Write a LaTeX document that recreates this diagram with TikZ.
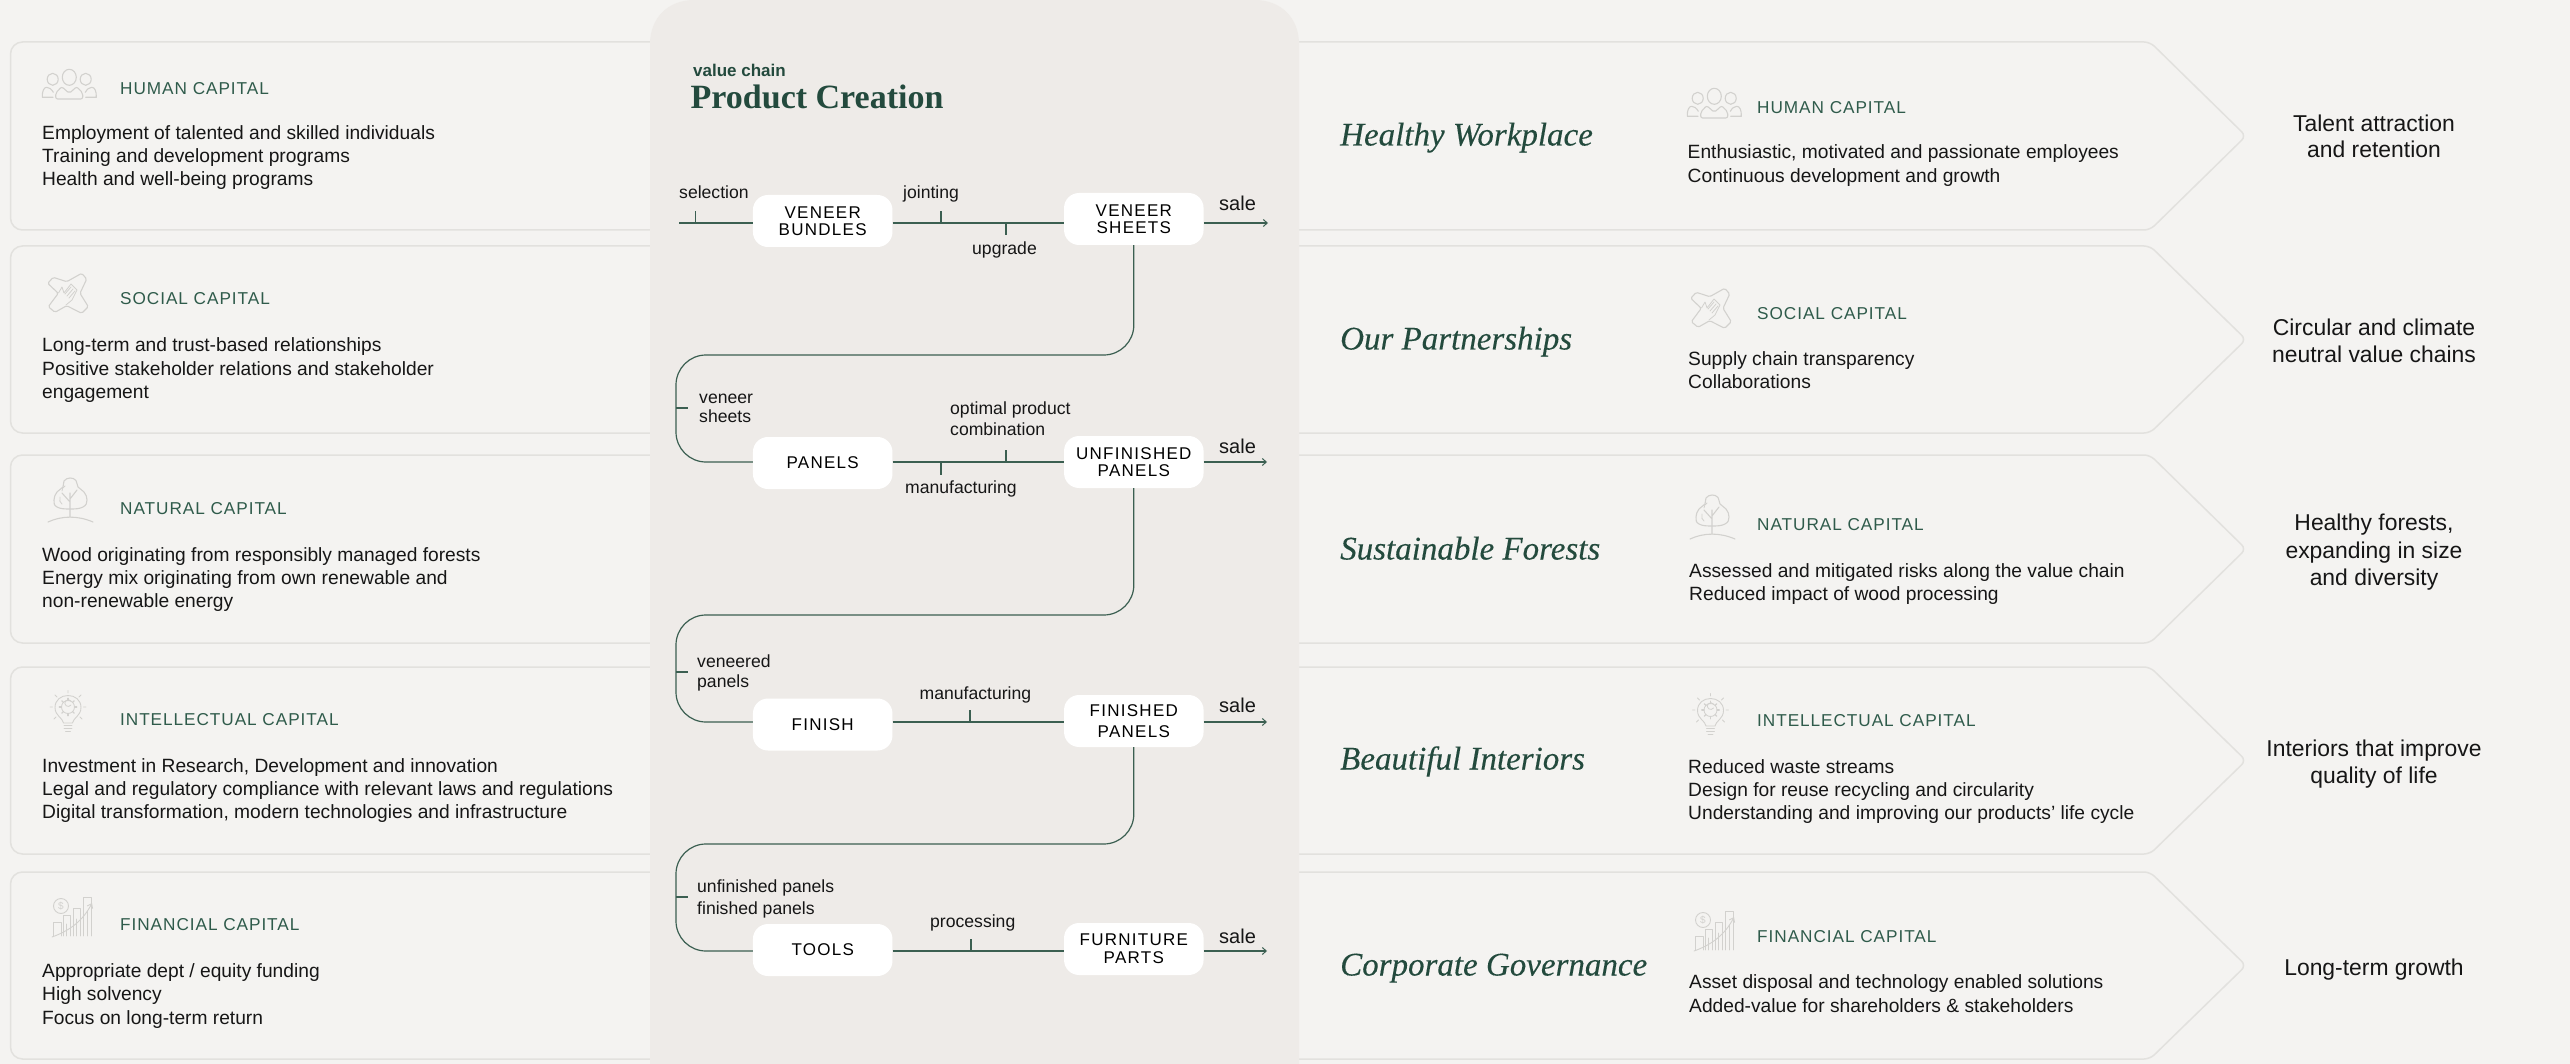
\documentclass[tikz,border=0pt]{standalone}
\usepackage{fontspec}
\usetikzlibrary{arrows.meta}
\setmainfont{Liberation Sans}
\newfontfamily\capsfont[LetterSpace=5.5]{Liberation Sans}
\newfontfamily\boxfont[LetterSpace=7.5]{Liberation Sans}
\newfontfamily\titlefont{Liberation Serif}
\newfontfamily\headfont[ItalicFeatures={FakeBold=0.2}]{Liberation Serif}
\definecolor{bgc}{HTML}{F4F3F1}
\definecolor{panelc}{HTML}{EEEBE8}
\definecolor{edgec}{HTML}{E2E1DE}
\definecolor{iconc}{HTML}{D2D1CE}
\definecolor{greenc}{HTML}{234A3D}
\definecolor{labelc}{HTML}{2F5B4B}
\definecolor{linec}{HTML}{3B5F51}
\definecolor{textc}{HTML}{161616}
\tikzset{
  txt/.style={anchor=base west,inner sep=0pt,text=textc},
  body/.style={txt,yshift=-0.7pt,font=\fontsize{19.2}{23}\selectfont},
  smalltxt/.style={txt,yshift=-0.5pt,font=\fontsize{17.6}{21}\selectfont},
  salet/.style={txt,font=\fontsize{20}{24}\selectfont},
  caplabel/.style={txt,yshift=-0.5pt,text=labelc,font=\capsfont\fontsize{17.2}{20}\selectfont},
  res/.style={anchor=base,yshift=-1pt,inner sep=0pt,text=textc,font=\fontsize{22.9}{27}\selectfont},
  ital/.style={txt,yshift=-0.5pt,text=greenc,font=\headfont\itshape\fontsize{33}{38}\selectfont},
  card/.style={draw=edgec,line width=1.5pt,fill=bgc},
  stagebox/.style={fill=white,rounded corners=15pt,minimum width=139.5pt,minimum height=52pt,inner sep=0pt,align=center,text=black,font=\boxfont\fontsize{17}{17}\selectfont},
  flow/.style={draw=linec,line width=1.2pt},
  flowtip/.style={flow,-{Straight Barb[length=4pt,width=7pt,line width=1pt]}},
  ic/.style={draw=iconc,line width=1.1pt,line join=round,line cap=round},
  humanicon/.pic={
    \draw[ic] (27.3,8.3) ellipse (7 and 8);
    \draw[ic] (10.7,10.3) ellipse (5.5 and 6);
    \draw[ic] (43.7,10.3) ellipse (5.5 and 6);
    \draw[ic,rounded corners=2pt] (13.7,30) -- (13.7,24) -- (19.7,17.7) -- (27.3,24.3) -- (34.7,17.7) -- (40.7,24) -- (40.7,30) -- cycle;
    \draw[ic] (11,28.3) -- (0.3,28.3) .. controls (0,22) and (2,18.3) .. (4.7,18.3) .. controls (7,18.3) and (9.5,20) .. (11.3,23.3);
    \draw[ic] (43.6,28.3) -- (54.3,28.3) .. controls (54.6,22) and (52.6,18.3) .. (49.9,18.3) .. controls (47.6,18.3) and (45.1,20) .. (43.3,23.3);
  },
  socialicon/.pic={
    \draw[ic,rounded corners=1.5pt] (34.7,0.3) -- (39.7,6) -- (33,20.3) -- (41.3,33.7) -- (34.7,40.3) -- (19.7,32.7) -- (8,39.3) -- (1.3,33.7) -- (11.3,20.3) -- (0.7,10.3) -- (6.3,4.3) -- (19.7,8.7) -- cycle;
    \draw[ic,line width=.8pt] (11.5,20) -- (15,14) -- (17,20) -- (24,11) -- (30,17) -- (25,27) -- (19,32);
    \draw[ic,line width=.8pt] (18,21) -- (24,14) (20,23) -- (26,16) (22,25) -- (28,18);
  },
  treeicon/.pic={
    \draw[ic] plot[smooth cycle,tension=.75] coordinates {(22,0) (28,2.5) (30,9) (36,14) (39,22) (35,29) (22,31) (9,29) (6,22) (9,14) (15,9) (16,3)};
    \draw[ic] (22,39) -- (22,15) (22,24) -- (14,15) (22,21) -- (29,12);
    \draw[ic] (0,44) .. controls (14,37.5) and (30,37.5) .. (45,44);
    \draw[ic,line width=.8pt] (12,19) .. controls (11,22) and (12,25) .. (14,26);
    \draw[ic,line width=.8pt] (17,8) .. controls (15,9) and (14,11) .. (14,13);
  },
  bulbicon/.pic={
    \draw[ic,line width=.9pt] (13.5,31) .. controls (13,26) and (5,24) .. (5,15.5) .. controls (5,8) and (11,3.5) .. (18,3.5) .. controls (25,3.5) and (31,8) .. (31,15.5) .. controls (31,24) and (23,26) .. (22.5,31) -- cycle;
    \draw[ic,line width=.8pt] (18,15) circle (6.5);
    \draw[ic,line width=.8pt] (21,13) arc (35:325:3.4);
    \foreach \a in {0,45,...,315} {\draw[ic,line width=1.3pt] (18,15) ++(\a:6.5) -- ++(\a:2.2);}
    \draw[ic,line width=.8pt] (14,33.5) -- (22,33.5) (14,36) -- (22,36) (15.5,39) -- (20.5,39);
    \draw[ic,line width=.8pt] (18,-1.5) -- (18,1) (5,3) -- (7,5) (31,3) -- (29,5) (0,15) -- (2.5,15) (33.5,15) -- (36,15) (4,27) -- (6,25) (32,27) -- (30,25);
  },
  financeicon/.pic={
    \draw[ic,line width=.9pt] (8,9) circle (7.5);
    \node[inner sep=0pt,text=iconc,font=\fontsize{10}{10}\selectfont] (coin) at (8,9) {\$};
    \draw[ic,line width=.9pt] (0,39) -- (0,25) -- (8,25) -- (8,39) (10,39) -- (10,18) -- (17,18) -- (17,39) (13.5,39) -- (13.5,27) (20,39) -- (20,11) -- (27,11) -- (27,39) (23.5,39) -- (23.5,22) (30,39) -- (30,0) -- (38,0) -- (38,39) (34,39) -- (34,14);
    \draw[ic,line width=.9pt,-{Straight Barb[length=4pt,width=6pt]}] (-1,40) .. controls (16,34) and (30,24) .. (39,6);
  }
}
\begin{document}
\begin{tikzpicture}[x=1pt,y=-1pt]
\path[use as bounding box,fill=bgc] (0,0) rectangle (2570,1064);

% left cards
\draw[card,rounded corners=12pt] (700,42) -- (10.5,42) -- (10.5,230) -- (700,230);
\draw[card,rounded corners=12pt] (700,246) -- (10.5,246) -- (10.5,433) -- (700,433);
\draw[card,rounded corners=12pt] (700,455) -- (10.5,455) -- (10.5,643) -- (700,643);
\draw[card,rounded corners=12pt] (700,667) -- (10.5,667) -- (10.5,854) -- (700,854);
\draw[card,rounded corners=12pt] (700,872) -- (10.5,872) -- (10.5,1059) -- (700,1059);

% right arrow cards
\draw[card,rounded corners=6pt] (1250,42) -- (2150,42) -- (2246,136) -- (2150,230) -- (1250,230);
\draw[card,rounded corners=6pt] (1250,246) -- (2150,246) -- (2246,339.5) -- (2150,433) -- (1250,433);
\draw[card,rounded corners=6pt] (1250,455) -- (2150,455) -- (2246,549) -- (2150,643) -- (1250,643);
\draw[card,rounded corners=6pt] (1250,667) -- (2150,667) -- (2246,760.5) -- (2150,854) -- (1250,854);
\draw[card,rounded corners=6pt] (1250,872) -- (2150,872) -- (2246,965.5) -- (2150,1059) -- (1250,1059);

% central panel
\fill[panelc] (650,1064) -- (650,44) .. controls (650,18) and (668,0) .. (694,0) -- (1255,0) .. controls (1281,0) and (1299,18) .. (1299,44) -- (1299,1064) -- cycle;

% icons
\pic at (42,69) {humanicon};
\pic at (1687,88) {humanicon};
\pic at (47,273) {socialicon};
\pic at (1690,288) {socialicon};
\pic at (48,478) {treeicon};
\pic at (1690,495) {treeicon};
\pic at (50,692) {bulbicon};
\pic at (1692.5,695) {bulbicon};
\pic (finL) at (53,897) {financeicon};
\pic (finR) at (1695,911) {financeicon};

% left labels
\node[caplabel] (lh) at (120,94) {HUMAN CAPITAL};
\node[body] (lh1) at (42,139) {Employment of talented and skilled individuals};
\node[body] (lh2) at (42,162) {Training and development programs};
\node[body] (lh3) at (42,185) {Health and well-being programs};
\node[caplabel] (ls) at (120,304) {SOCIAL CAPITAL};
\node[body] (ls1) at (42,351) {Long-term and trust-based relationships};
\node[body] (ls2) at (42,375) {Positive stakeholder relations and stakeholder};
\node[body] (ls3) at (42,398) {engagement};
\node[caplabel] (ln) at (120,514) {NATURAL CAPITAL};
\node[body] (ln1) at (42,561) {Wood originating from responsibly managed forests};
\node[body] (ln2) at (42,584) {Energy mix originating from own renewable and};
\node[body] (ln3) at (42,607) {non-renewable energy};
\node[caplabel] (li) at (120,725) {INTELLECTUAL CAPITAL};
\node[body] (li1) at (42,772) {Investment in Research, Development and innovation};
\node[body] (li2) at (42,795) {Legal and regulatory compliance with relevant laws and regulations};
\node[body] (li3) at (42,818) {Digital transformation, modern technologies and infrastructure};
\node[caplabel] (lf) at (120,930) {FINANCIAL CAPITAL};
\node[body] (lf1) at (42,977) {Appropriate dept / equity funding};
\node[body] (lf2) at (42,1000) {High solvency};
\node[body] (lf3) at (42,1024) {Focus on long-term return};

% centre titles
\node[txt,text=greenc,font=\bfseries\fontsize{17}{20}\selectfont] (vc) at (693,76.5) {value chain};
\node[txt,text=greenc,font=\titlefont\bfseries\fontsize{34}{38}\selectfont] (pc) at (690.5,109) {Product Creation};

% stage boxes
\node[stagebox] (vb) at (822.7,221) {VENEER\\[0pt]BUNDLES};
\node[stagebox] (vs) at (1133.8,219) {VENEER\\[0pt]SHEETS};
\node[stagebox] (pa) at (822.7,463) {PANELS};
\node[stagebox] (up) at (1133.8,462) {UNFINISHED\\[0pt]PANELS};
\node[stagebox] (fi) at (822.7,724.5) {FINISH};
\node[stagebox] (fp) at (1133.8,721) {FINISHED\\[4pt]PANELS};
\node[stagebox] (to) at (822.7,950) {TOOLS};
\node[stagebox] (fu) at (1133.8,949) {FURNITURE\\[1pt]PARTS};

% free ends of the row lines
\coordinate (s1) at (679,223);
\coordinate (e1) at (1268,223);
\coordinate (e2) at (1267,462);
\coordinate (e3) at (1267,722);
\coordinate (e4) at (1267,951);

% row connectors
\draw[flow] (s1) -- (s1 -| vb.west);
\draw[flow] (s1 -| vb.east) -- (s1 -| vs.west);
\draw[flowtip] (e1 -| vs.east) -- (e1);
\draw[flow] (e2 -| pa.east) -- (e2 -| up.west);
\draw[flowtip] (e2 -| up.east) -- (e2);
\draw[flow] (e3 -| fi.east) -- (e3 -| fp.west);
\draw[flowtip] (e3 -| fp.east) -- (e3);
\draw[flow] (e4 -| to.east) -- (e4 -| fu.west);
\draw[flowtip] (e4 -| fu.east) -- (e4);

% loops
\draw[flow,rounded corners=30pt] (vs.south) -- (vs.south |- 0,355) -- (676,355) -- (676,462) -- (e2 -| pa.west);
\draw[flow,rounded corners=30pt] (up.south) -- (up.south |- 0,615) -- (676,615) -- (676,722) -- (e3 -| fi.west);
\draw[flow,rounded corners=30pt] (fp.south) -- (fp.south |- 0,844) -- (676,844) -- (676,951) -- (e4 -| to.west);

% ticks
\coordinate (t1) at (695.5,223); \draw[flow] (t1) -- ++(0,-12);
\coordinate (t2) at (941,223); \draw[flow] (t2) -- ++(0,-12);
\coordinate (t3) at (1006,223); \draw[flow] (t3) -- ++(0,12);
\coordinate (t4) at (1006,462); \draw[flow] (t4) -- ++(0,-12);
\coordinate (t5) at (941,462); \draw[flow] (t5) -- ++(0,13);
\coordinate (t6) at (970,722); \draw[flow] (t6) -- ++(0,-12);
\coordinate (t7) at (971,951); \draw[flow] (t7) -- ++(0,-12);
\coordinate (t8) at (676,408); \draw[flow] (t8) -- ++(12,0);
\coordinate (t9) at (676,672); \draw[flow] (t9) -- ++(12,0);
\coordinate (t10) at (676,897); \draw[flow] (t10) -- ++(12,0);

% flow labels
\node[smalltxt] (c1) at (679,198) {selection};
\node[smalltxt] (c2) at (903,198) {jointing};
\node[smalltxt] (c3) at (972,254) {upgrade};
\node[salet] (c4) at (1219,211) {sale};
\node[smalltxt] (c5) at (699,403) {veneer};
\node[smalltxt] (c6) at (699,422) {sheets};
\node[smalltxt] (c7) at (950,414) {optimal product};
\node[smalltxt] (c8) at (950,435) {combination};
\node[smalltxt] (c9) at (905,493) {manufacturing};
\node[salet] (c10) at (1219,453) {sale};
\node[smalltxt] (c11) at (697,667) {veneered};
\node[smalltxt] (c12) at (697,687) {panels};
\node[smalltxt] (c13) at (919.5,699) {manufacturing};
\node[salet] (c14) at (1219,712) {sale};
\node[smalltxt] (c15) at (697,892) {unfinished panels};
\node[smalltxt] (c16) at (697,914) {finished panels};
\node[smalltxt] (c17) at (930,927) {processing};
\node[salet] (c18) at (1219,943) {sale};

% italic headings
\node[ital] (h1) at (1340,145) {Healthy Workplace};
\node[ital] (h2) at (1340,349) {Our Partnerships};
\node[ital] (h3) at (1340,559) {Sustainable Forests};
\node[ital] (h4) at (1340,769) {Beautiful Interiors};
\node[ital] (h5) at (1340,975) {Corporate Governance};

% right labels
\node[caplabel] (rh) at (1757,113) {HUMAN CAPITAL};
\node[body] (rh1) at (1687.5,158) {Enthusiastic, motivated and passionate employees};
\node[body] (rh2) at (1687.5,182) {Continuous development and growth};
\node[caplabel] (rs) at (1757,319) {SOCIAL CAPITAL};
\node[body] (rs1) at (1688,365) {Supply chain transparency};
\node[body] (rs2) at (1688,388) {Collaborations};
\node[caplabel] (rn) at (1757,530) {NATURAL CAPITAL};
\node[body] (rn1) at (1689,577) {Assessed and mitigated risks along the value chain};
\node[body] (rn2) at (1689,600) {Reduced impact of wood processing};
\node[caplabel] (ri) at (1757,726) {INTELLECTUAL CAPITAL};
\node[body] (ri1) at (1688,773) {Reduced waste streams};
\node[body] (ri2) at (1688,796) {Design for reuse recycling and circularity};
\node[body] (ri3) at (1688,819) {Understanding and improving our products' life cycle};
\node[caplabel] (rf) at (1757,942) {FINANCIAL CAPITAL};
\node[body] (rf1) at (1689,988) {Asset disposal and technology enabled solutions};
\node[body] (rf2) at (1689,1012) {Added-value for shareholders \& stakeholders};

% outcomes
\node[res] (o1a) at (2374,131) {Talent attraction};
\node[res] (o1b) at (2374,157) {and retention};
\node[res] (o2a) at (2374,335) {Circular and climate};
\node[res] (o2b) at (2374,362) {neutral value chains};
\node[res] (o3a) at (2374,529) {Healthy forests,};
\node[res] (o3b) at (2374,557) {expanding in size};
\node[res] (o3c) at (2374,584) {and diversity};
\node[res] (o4a) at (2374,755) {Interiors that improve};
\node[res] (o4b) at (2374,782) {quality of life};
\node[res] (o5) at (2374,974) {Long-term growth};
\end{tikzpicture}
\end{document}
